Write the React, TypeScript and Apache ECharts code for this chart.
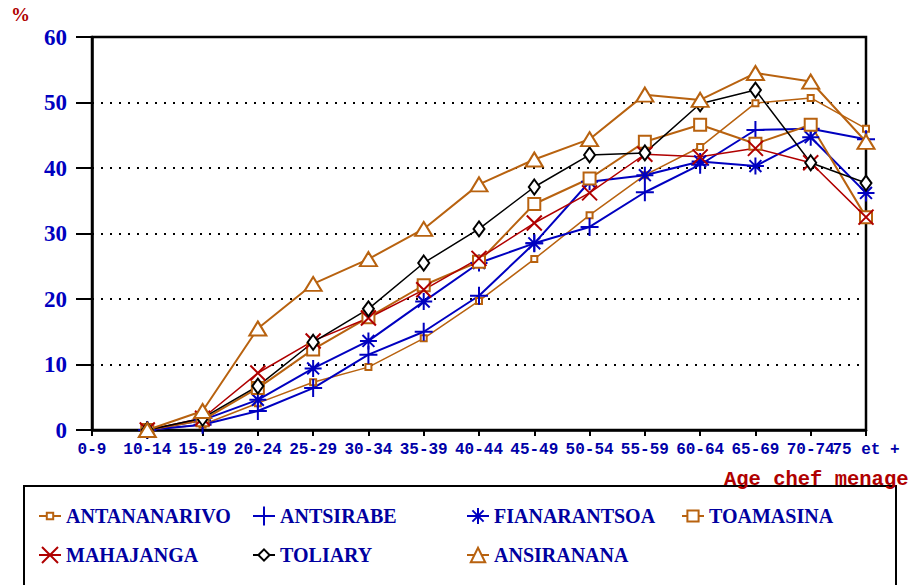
import React, { useEffect, useRef } from "react";
import * as echarts from "echarts";

const categories = ["0-9", "10-14", "15-19", "20-24", "25-29", "30-34", "35-39", "40-44", "45-49", "50-54", "55-59", "60-64", "65-69", "70-74", "75 et +"];
const yTicks = { min: 0, max: 60, interval: 10 };

const antananarivo = [null, 0, 0.8, 4.1, 7.3, 9.6, 14.0, 19.7, 26.1, 32.8, 38.9, 43.2, 49.9, 50.7, 46.0];
const antsirabe = [null, 0, 0.8, 2.9, 6.4, 11.5, 15.0, 20.5, 28.5, 31.0, 36.3, 40.5, 45.8, 46.0, 44.4];
const fianarantsoa = [null, 0, 1.5, 4.6, 9.4, 13.6, 19.6, 25.5, 28.5, 37.9, 38.9, 41.0, 40.3, 44.7, 36.2];
const toamasina = [null, 0, 1.5, 6.4, 12.3, 17.2, 22.1, 25.7, 34.5, 38.4, 44.0, 46.6, 43.7, 46.6, 32.5];
const mahajanga = [null, 0, 1.8, 8.7, 13.6, 17.1, 21.4, 26.2, 31.6, 36.2, 42.1, 41.7, 43.0, 40.8, 32.5];
const toliary = [null, 0, 1.8, 6.7, 13.4, 18.5, 25.5, 30.7, 37.1, 42.0, 42.3, 49.8, 51.9, 40.8, 37.7];
const ansiranana = [null, 0, 2.9, 15.5, 22.3, 26.1, 30.7, 37.5, 41.3, 44.4, 51.2, 50.4, 54.5, 53.2, 44.0];

const BROWN = "#b8620f";
const BLUE = "#0000c0";
const RED = "#b00000";
const BLACK = "#000000";
const TEXT_BLUE = "#0000a0";

const PLUS = "path://M0,6H12M6,0V12";
const STAR = "path://M0,6H12M6,0V12M1.8,1.8L10.2,10.2M10.2,1.8L1.8,10.2";
const CROSS = "path://M0,0L12,12M12,0L0,12";

type Def = {
  name: string;
  data: (number | null)[];
  color: string;
  symbol: string;
  size: number | number[];
  fill: string;
  lw: number;
  legendH: number;
  lx: number;
  ly: number;
};

const defs: Def[] = [
  { name: "ANTANANARIVO", data: antananarivo, color: BROWN, symbol: "rect", size: 6, fill: "#fff", lw: 1.5, legendH: 8, lx: 38, ly: 516 },
  { name: "ANTSIRABE", data: antsirabe, color: BLUE, symbol: PLUS, size: 18, fill: BLUE, lw: 2, legendH: 24, lx: 252, ly: 516 },
  { name: "FIANARANTSOA", data: fianarantsoa, color: BLUE, symbol: STAR, size: 17, fill: BLUE, lw: 2, legendH: 20, lx: 466, ly: 516 },
  { name: "TOAMASINA", data: toamasina, color: BROWN, symbol: "rect", size: 12, fill: "#fff", lw: 2, legendH: 14, lx: 681, ly: 516 },
  { name: "MAHAJANGA", data: mahajanga, color: RED, symbol: CROSS, size: 15, fill: RED, lw: 1.5, legendH: 20, lx: 38, ly: 555 },
  { name: "TOLIARY", data: toliary, color: BLACK, symbol: "diamond", size: [11, 15], fill: "#fff", lw: 1.5, legendH: 14, lx: 252, ly: 555 },
  { name: "ANSIRANANA", data: ansiranana, color: BROWN, symbol: "triangle", size: [17, 14], fill: "#fff", lw: 2, legendH: 18, lx: 466, ly: 555 },
];

export default function App() {
  const ref = useRef<HTMLDivElement>(null);
  useEffect(() => {
    document.body.style.margin = "0";
    if (!ref.current) return;
    const chart = echarts.init(ref.current, undefined, { renderer: "svg" });
    const option: any = {
      animation: false,
      backgroundColor: "#ffffff",
      grid: { left: 92, right: 44, top: 37, bottom: 155, show: true, borderColor: "#000", borderWidth: 2.5 },
      xAxis: {
        type: "category",
        data: categories,
        boundaryGap: false,
        axisLine: { lineStyle: { color: "#000", width: 2.5 } },
        axisTick: { show: true, length: 6, inside: false, alignWithLabel: true, lineStyle: { color: "#000", width: 2 } },
        axisLabel: {
          interval: 0,
          margin: 12,
          color: "#0000a8",
          fontFamily: "Liberation Mono",
          fontWeight: "bold",
          fontSize: 16,
        },
        splitLine: { show: false },
      },
      yAxis: {
        type: "value",
        min: yTicks.min,
        max: yTicks.max,
        interval: yTicks.interval,
        axisLine: { show: true, lineStyle: { color: "#000", width: 2.5 } },
        axisTick: { show: true, length: 16, lineStyle: { color: "#000", width: 2 } },
        axisLabel: {
          margin: 25,
          color: BLUE,
          fontFamily: "Liberation Serif",
          fontWeight: "bold",
          fontSize: 23,
        },
        splitLine: { show: true, lineStyle: { color: "#000", width: 2, type: [2, 7] } },
      },
      legend: defs.map((d) => ({
        data: [d.name],
        left: d.lx,
        top: d.ly - 11,
        padding: 0,
        itemWidth: 22,
        itemHeight: d.legendH,
        selectedMode: false,
        textStyle: {
          color: TEXT_BLUE,
          fontFamily: "Liberation Serif",
          fontWeight: "bold",
          fontSize: 20,
          lineHeight: 22,
        },
      })),
      graphic: [
        {
          type: "rect",
          shape: { x: 24, y: 486, width: 872, height: 130 },
          style: { fill: "none", stroke: "#000", lineWidth: 2 },
          z: 0,
        },
        {
          type: "text",
          left: 11,
          top: 5,
          style: { text: "%", fill: RED, font: "bold 19px 'Liberation Serif'" },
        },
        {
          type: "text",
          x: 724,
          y: 479,
          style: {
            text: "Age chef menage",
            fill: RED,
            font: "bold 20.5px 'Liberation Mono'",
            textVerticalAlign: "middle",
          },
        },
      ],
      series: defs.map((d) => ({
        name: d.name,
        type: "line",
        data: d.data,
        symbol: d.symbol,
        symbolSize: d.size,
        showSymbol: true,
        connectNulls: false,
        lineStyle: { color: d.color, width: d.lw },
        itemStyle: { color: d.fill, borderColor: d.color, borderWidth: 2 },
        emphasis: { disabled: true },
        z: 3,
      })),
    };
    chart.setOption(option);
    return () => chart.dispose();
  }, []);
  return <div ref={ref} style={{ width: 910, height: 585 }} />;
}
